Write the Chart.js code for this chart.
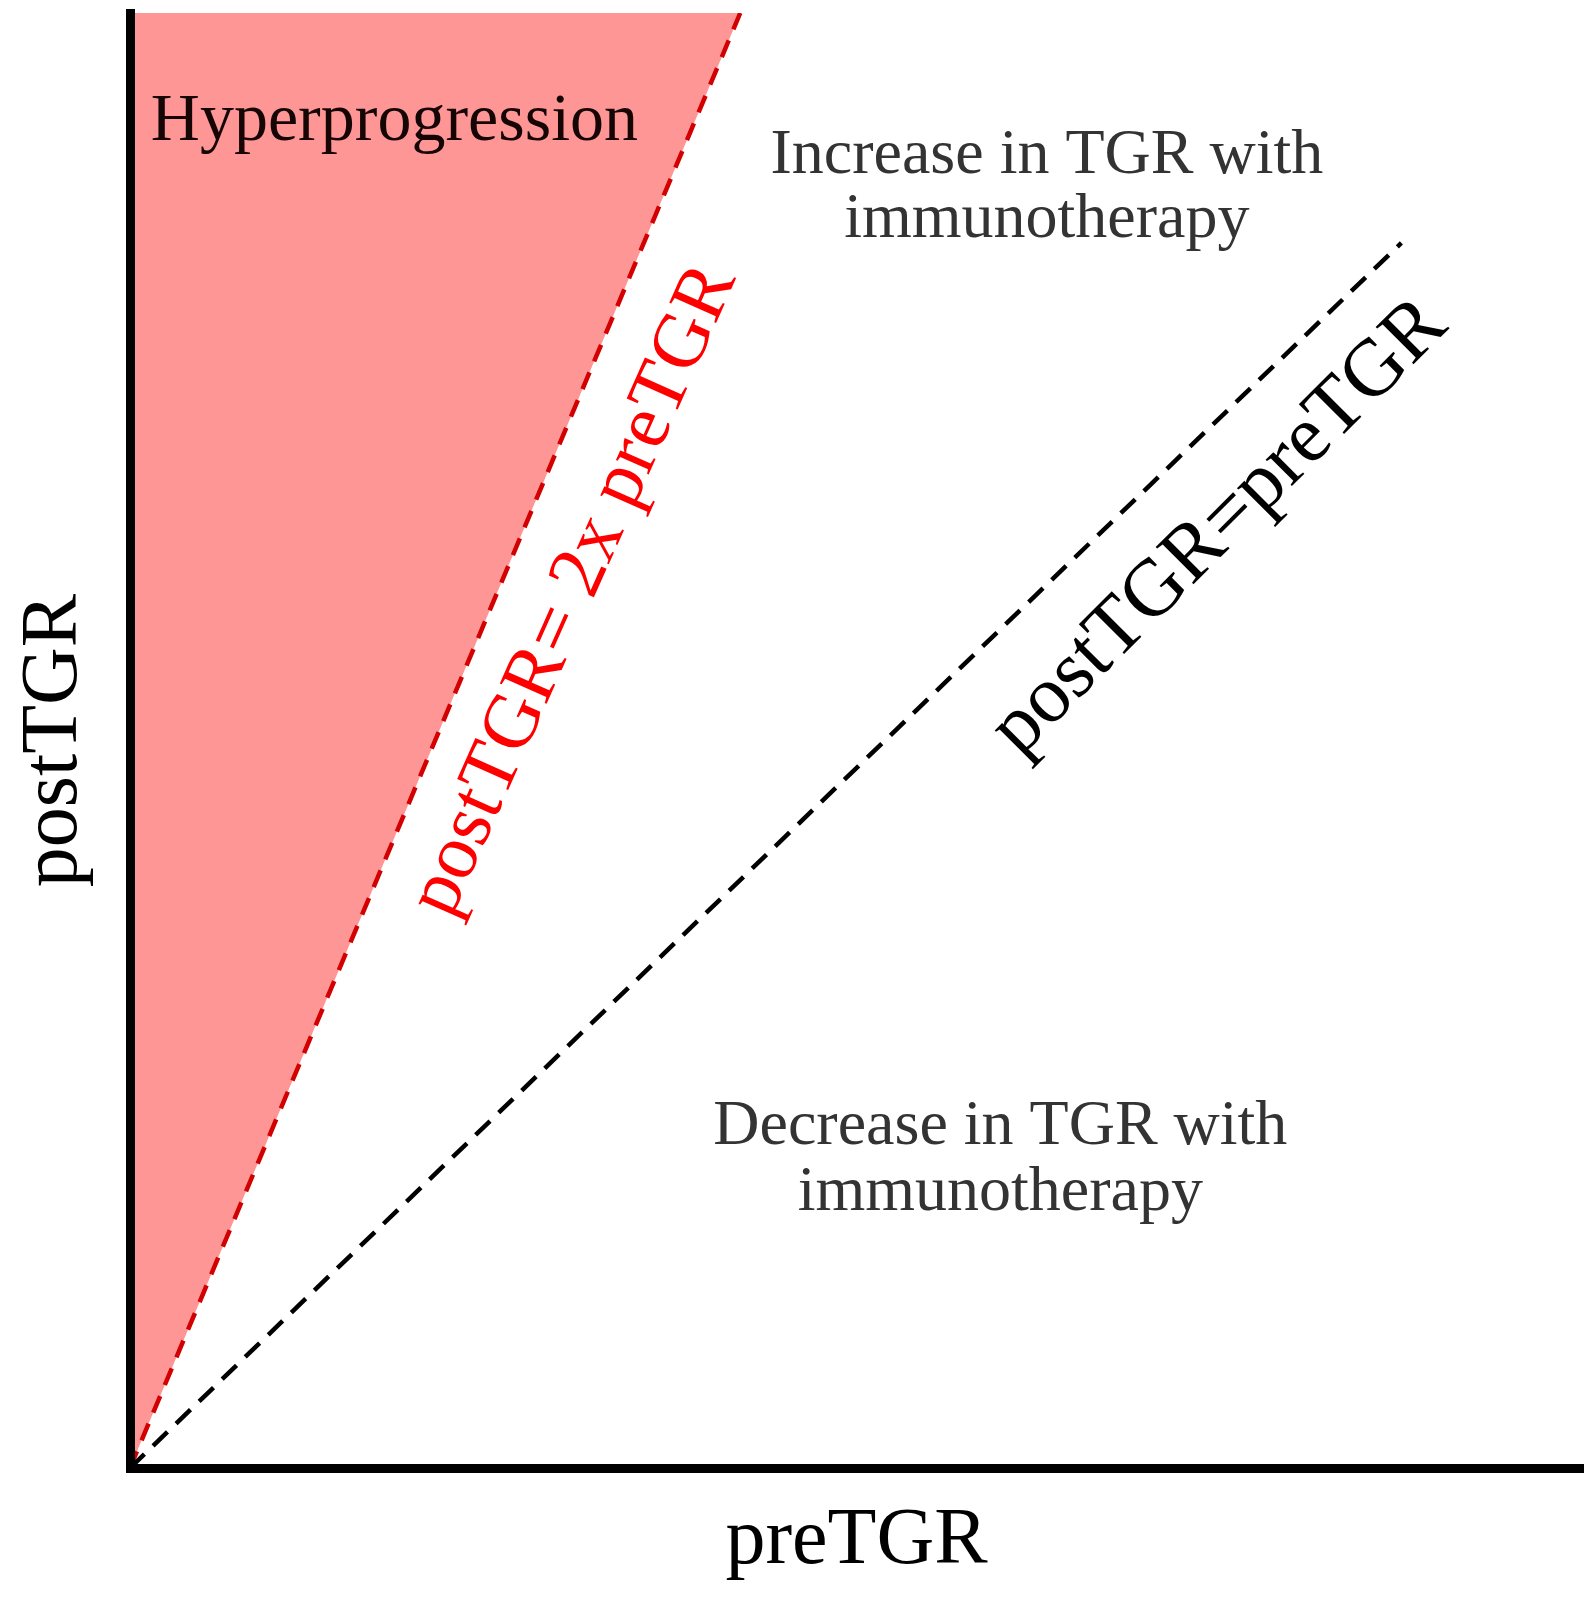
<!DOCTYPE html>
<html>
<head>
<meta charset="utf-8">
<title>postTGR vs preTGR</title>
<script src="https://cdn.jsdelivr.net/npm/chart.js@4.4.1/dist/chart.umd.min.js"></script>
<style>
    html, body { margin: 0; padding: 0; background: #fff; overflow: hidden; }
    #wrap { width: 1596px; height: 1602px; position: relative; }
</style>
</head>
<body>
<div id="wrap"><canvas id="tgrChart"></canvas></div>
<script>
/* --- Data (arbitrary units, 0-100 on both axes) --- */
const axisRange = [0, 100];

// postTGR = 2x preTGR boundary (hyperprogression edge)
const doublePre = [0, 42];
const doublePost = [0, 100];

// postTGR = preTGR identity line
const equalPre = [0, 87.5];
const equalPost = [0, 84.2];

const toPoints = (xs, ys) => xs.map((x, i) => ({ x: x, y: ys[i] }));

const SERIF = "'Liberation Serif', 'DejaVu Serif', serif";

/* --- Region / line labels drawn in data space --- */
const regionLabels = [
    { text: 'Hyperprogression', x: 18.2, y: 91.3, size: 68, color: '#150505' },
    { text: 'Increase in TGR with', x: 63.1, y: 89.0, size: 64, color: '#333333' },
    { text: 'immunotherapy', x: 63.1, y: 84.6, size: 64, color: '#333333' },
    { text: 'Decrease in TGR with', x: 59.9, y: 22.3, size: 64, color: '#333333' },
    { text: 'immunotherapy', x: 59.9, y: 17.7, size: 64, color: '#333333' },
    { text: 'postTGR= 2x preTGR', x: 30.6, y: 60.3, size: 78, color: '#ff0000', angle: -66, middle: true },
    { text: 'postTGR=preTGR', x: 75.0, y: 64.6, size: 81, color: '#000000', angle: -45, middle: true }
];

const labelPlugin = {
    id: 'regionLabels',
    afterDatasetsDraw(chart) {
        const { ctx, scales: { x, y } } = chart;
        ctx.save();
        regionLabels.forEach(l => {
            const px = x.getPixelForValue(l.x);
            const py = y.getPixelForValue(l.y);
            ctx.save();
            ctx.translate(px, py);
            if (l.angle) ctx.rotate(l.angle * Math.PI / 180);
            ctx.font = `${l.size}px ${SERIF}`;
            ctx.fillStyle = l.color;
            ctx.textAlign = 'center';
            ctx.textBaseline = l.middle ? 'middle' : 'alphabetic';
            ctx.fillText(l.text, 0, 0);
            ctx.restore();
        });
        ctx.restore();
    }
};

function axisOptions(title, pad) {
    return {
        type: 'linear',
        min: axisRange[0],
        max: axisRange[1],
        ticks: { display: false },
        grid: { display: false, drawTicks: false },
        // z > 0 so the axis line sits on top of the red fill
        border: { display: true, width: 9, color: '#000', z: 1 },
        title: {
            display: true,
            text: title,
            color: '#000',
            font: { family: SERIF, size: 80, lineHeight: 1 },
            padding: pad
        }
    };
}

new Chart(document.getElementById('tgrChart'), {
    type: 'scatter',
    data: {
        datasets: [
            {
                label: 'postTGR=preTGR',
                data: toPoints(equalPre, equalPost),
                showLine: true,
                borderColor: '#000',
                borderWidth: 4.5,
                borderDash: [20, 12],
                pointRadius: 0,
                fill: false
            },
            {
                label: 'postTGR= 2x preTGR',
                data: toPoints(doublePre, doublePost),
                showLine: true,
                borderColor: '#d20000',
                borderWidth: 4.5,
                borderDash: [18, 12],
                pointRadius: 0,
                fill: 'end',
                backgroundColor: '#ff9696'
            }
        ]
    },
    options: {
        responsive: true,
        maintainAspectRatio: false,
        animation: false,
        layout: { padding: { top: 13, right: 13, bottom: 0, left: 0 } },
        plugins: {
            legend: { display: false },
            tooltip: { enabled: false }
        },
        scales: {
            x: axisOptions('preTGR', { top: 34, bottom: 20 }),
            y: axisOptions('postTGR', { top: 15, bottom: 35 })
        }
    },
    plugins: [labelPlugin]
});
</script>
</body>
</html>
